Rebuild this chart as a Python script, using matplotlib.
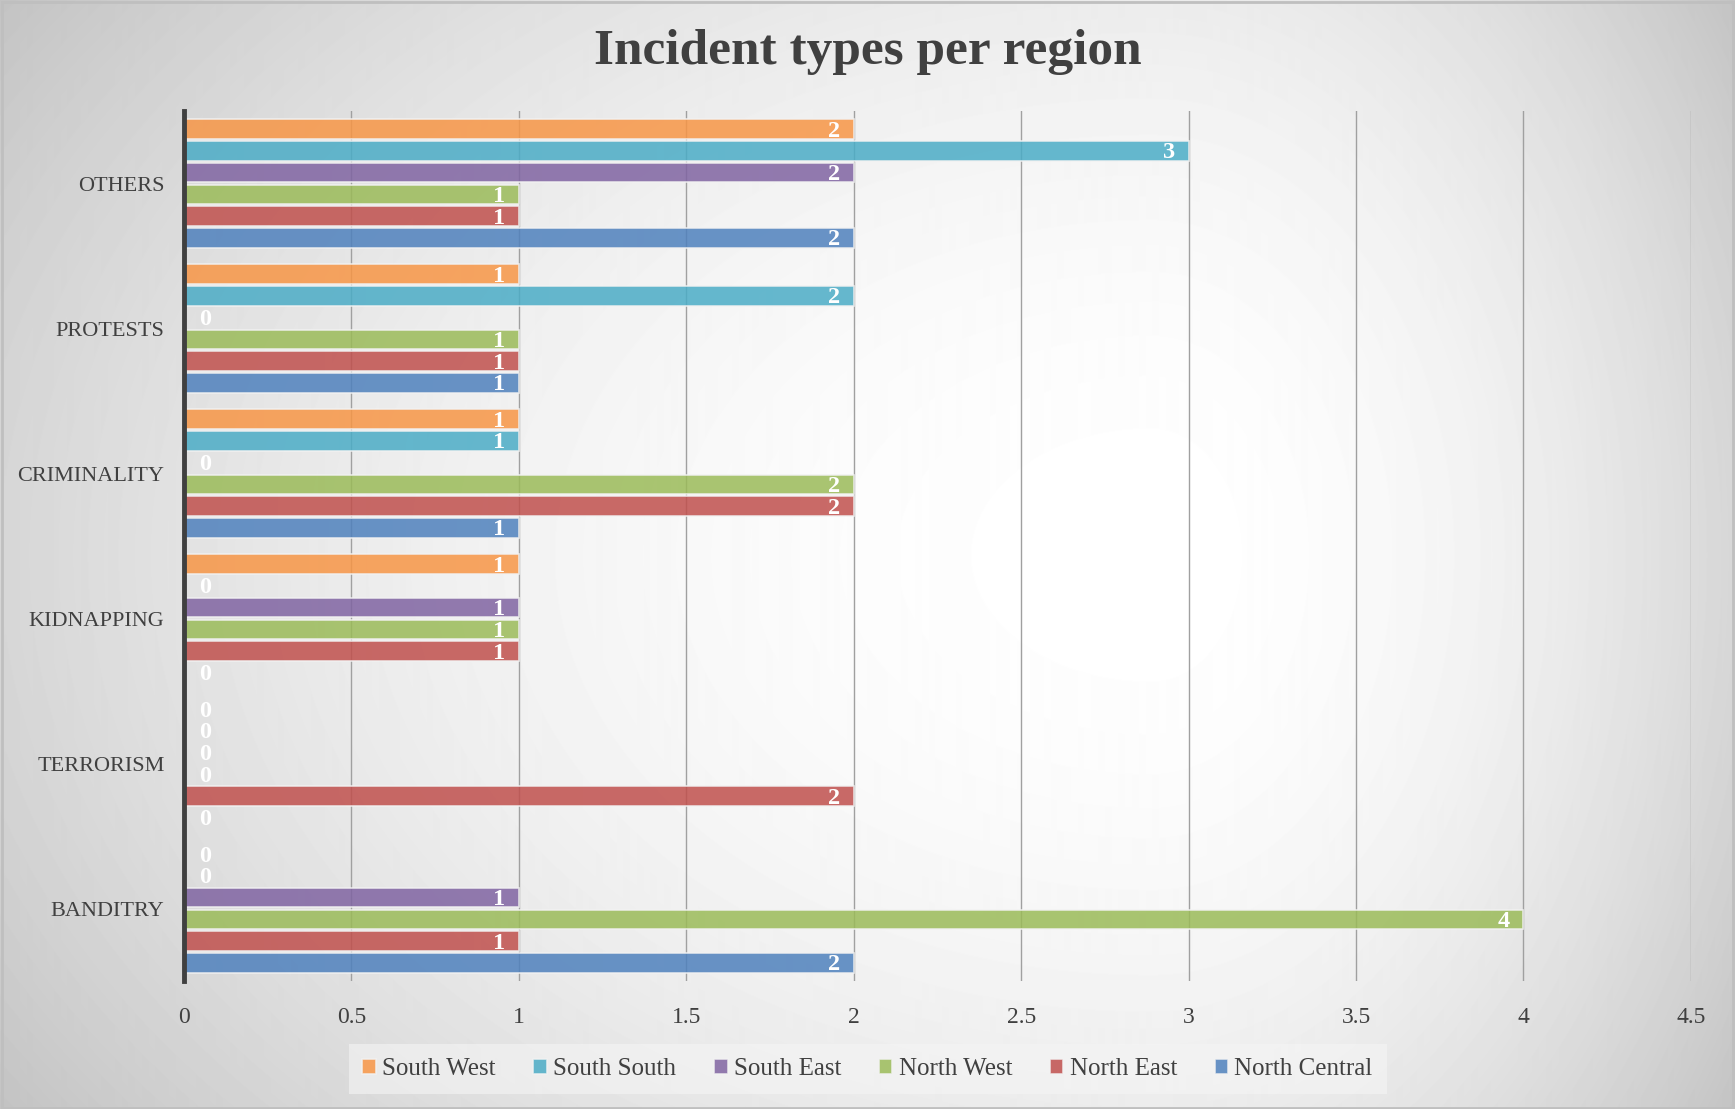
import numpy as np
from matplotlib import pyplot as plt

# data (bottom group first, series listed bottom bar first)
categories = ['BANDITRY', 'TERRORISM', 'KIDNAPPING', 'CRIMINALITY', 'PROTESTS', 'OTHERS']
series = ['North Central', 'North East', 'North West', 'South East', 'South South', 'South West']
north_central = [2, 0, 0, 1, 1, 2]
north_east = [1, 2, 1, 2, 1, 1]
north_west = [4, 0, 1, 2, 1, 1]
south_east = [1, 0, 1, 0, 0, 2]
south_south = [0, 0, 0, 1, 2, 3]
south_west = [0, 0, 1, 1, 1, 2]
values = [north_central, north_east, north_west, south_east, south_south, south_west]
colors = ['#4F81BD', '#C0504D', '#9BBB59', '#8064A2', '#4BACC6', '#F79646']
xticks = [0, 0.5, 1, 1.5, 2, 2.5, 3, 3.5, 4, 4.5]

font = 'Liberation Serif'
txt = '#404040'

fig = plt.figure(figsize=(17.35, 11.09), dpi=100)

# soft radial-ish background, white towards the middle right
bg = fig.add_axes([0, 0, 1, 1], zorder=-5)
H, W = 1109, 1735
cx, cy = 1150, 555
yy, xx = np.mgrid[0:H, 0:W]
rx = np.where(xx < cx, (xx - cx) / cx, (xx - cx) / (W - cx))
ry = (yy - cy) / cy
shade = np.clip(1.0 - 0.16 * rx ** 2 - 0.075 * ry ** 2, 0, 1)
bg.imshow(shade, cmap='gray', vmin=0, vmax=1, aspect='auto', extent=[0, 1, 0, 1])
bg.set_xlim(0, 1)
bg.set_ylim(0, 1)
bg.axis('off')
bg.add_patch(plt.Rectangle((0.001, 0.001), 0.998, 0.997, fill=False,
                           edgecolor='#BFBFBF', linewidth=2, transform=bg.transAxes))

ax = fig.add_axes([0.106, 0.1154, 0.8686, 0.7845])
ax.set_facecolor('none')

pitch = 0.15
height = 0.135
y = np.arange(len(categories))
handles = []
for j, (name, vals, col) in enumerate(zip(series, values, colors)):
    pos = y + (j - 2.5) * pitch
    b = ax.barh(pos, vals, height=height, color=col, alpha=0.85,
                edgecolor='#F2F2F2', linewidth=1.2, zorder=3, label=name)
    handles.append(b)
    for p, v in zip(pos, vals):
        if v == 0:
            ax.annotate('0', (0, p), xytext=(11, -1.5), textcoords='offset points',
                        ha='left', va='center', color='white', fontsize=17.5,
                        fontweight='bold', family=font, zorder=5)
        else:
            ax.annotate(str(v), (v, p), xytext=(-10, -1.5), textcoords='offset points',
                        ha='right', va='center', color='white', fontsize=17.5,
                        fontweight='bold', family=font, zorder=5)

ax.set_xlim(0, 4.5)
ax.set_ylim(-0.5, 5.5)
ax.set_xticks(xticks)
ax.set_xticklabels([('%g' % t) for t in xticks], family=font, fontsize=17, color=txt)
ax.set_yticks(y)
ax.set_yticklabels(categories, family=font, fontsize=16, color=txt)
ax.tick_params(length=0, pad=14)
ax.tick_params(axis='x', pad=19)
ax.grid(axis='x', color='#A0A0A0', linewidth=1, zorder=0)
ax.set_axisbelow(True)
for s in ['top', 'right', 'bottom']:
    ax.spines[s].set_visible(False)
ax.spines['left'].set_color('#404040')
ax.spines['left'].set_linewidth(3.5)
ax.spines['left'].set_zorder(6)

fig.text(0.5, 0.953, 'Incident types per region', ha='center', va='center',
         family=font, fontsize=37, fontweight='bold', color=txt)

leg = fig.legend(handles[::-1], series[::-1], loc='center', bbox_to_anchor=(0.5, 0.036),
                 ncol=6, frameon=True, fancybox=False, handlelength=0.55, handleheight=0.55,
                 handletextpad=0.25, columnspacing=1.5, borderpad=0.55,
                 prop={'family': font, 'size': 18})
leg.get_frame().set_facecolor('#F5F5F5')
leg.get_frame().set_alpha(0.6)
leg.get_frame().set_edgecolor('none')
for t in leg.get_texts():
    t.set_color(txt)

plt.savefig('out.png', dpi=100)
